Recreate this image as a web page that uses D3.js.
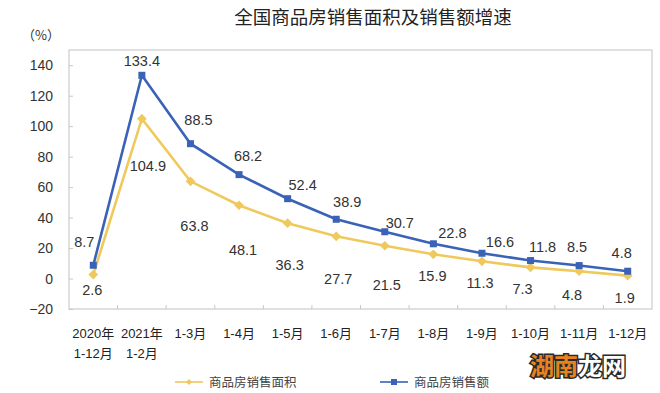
<!DOCTYPE html>
<html>
  <head>
    <meta charset="utf-8">
    <title>全国商品房销售面积及销售额增速</title>
    <script src="https://d3js.org/d3.v7.min.js"></script>
    <style>
      body{
        margin: 0;
        background: #fff;
      }
      text{
        font-family: "Liberation Sans", Arial, "Noto Sans CJK SC", sans-serif;
        fill: #333;
      }
      .cjk{
        font-family: "Noto Sans CJK SC", sans-serif;
      }
    </style>
  </head>
  <body>
    <div id="container"></div>
    <script>

      // DATA
      const periods = ["2020年|1-12月", "2021年|1-2月", "1-3月", "1-4月", "1-5月", "1-6月",
                       "1-7月", "1-8月", "1-9月", "1-10月", "1-11月", "1-12月"];
      const areaGrowth  = [2.6, 104.9, 63.8, 48.1, 36.3, 27.7, 21.5, 15.9, 11.3, 7.3, 4.8, 1.9];
      const salesGrowth = [8.7, 133.4, 88.5, 68.2, 52.4, 38.9, 30.7, 22.8, 16.6, 11.8, 8.5, 4.8];
      const yTicks = [-20, 0, 20, 40, 60, 80, 100, 120, 140];

      // hand placed label nudges (like the excel original), [dx, dy] from the point
      const areaNudge  = [[-1,15],[6,47],[4,44],[4,45],[2,42],[2,42],[2,39],[-1,21],[-2,21],[-8,21],[-7,24],[-3,22]];
      const salesNudge = [[-9,-23],[0,-15],[8,-24],[9,-19],[15,-14],[11,-17],[15,-9],[19,-11],[18,-11],[12,-14],[-2,-19],[-6,-18]];

      const W = 660, H = 393;
      const plot = { left: 69, right: 652, top: 50, bottom: 309 };
      const blue = "#3a62b6", yellow = "#efc95c";

      const svg = d3.select("#container")
        .append("svg")
        .attr("width", W)
        .attr("height", H);

      // TITLE
      svg.append("text")
        .attr("class", "cjk")
        .attr("x", 373)
        .attr("y", 24)
        .attr("text-anchor", "middle")
        .style("font-size", "18.5px")
        .style("fill", "#222")
        .text("全国商品房销售面积及销售额增速");

      svg.append("text")
        .attr("class", "cjk")
        .attr("x", 41)
        .attr("y", 40)
        .attr("text-anchor", "middle")
        .style("font-size", "13px")
        .text("（%）");

      // SCALES
      const x = d3.scaleBand()
        .domain(periods)
        .range([plot.left, plot.right]);
      const y = d3.scaleLinear()
        .domain([-20, 150])
        .range([plot.bottom, plot.top]);

      // FRAME
      svg.append("rect")
        .attr("x", plot.left)
        .attr("y", plot.top)
        .attr("width", plot.right - plot.left)
        .attr("height", plot.bottom - plot.top)
        .attr("fill", "none")
        .attr("stroke", "#d0d0d0")
        .attr("stroke-width", 1.3);

      // Y-AXIS
      const yAxis = svg.append("g")
        .attr("transform", "translate(" + plot.left + ",0)")
        .call(d3.axisRight(y).tickValues(yTicks).tickSize(4).tickFormat(d3.format("d")));
      yAxis.select(".domain").remove();
      yAxis.selectAll("line").attr("stroke", "#c8c8c8");
      yAxis.selectAll("text")
        .attr("x", -16)
        .attr("text-anchor", "end")
        .style("font-size", "14px")
        .style("fill", "#333");

      // X-AXIS (ticks between categories, pointing up)
      const xAxis = svg.append("g")
        .attr("transform", "translate(0," + plot.bottom + ")");
      xAxis.selectAll("line")
        .data(periods.slice(1))
        .enter()
        .append("line")
        .attr("x1", d => x(d))
        .attr("x2", d => x(d))
        .attr("y1", 0)
        .attr("y2", -4)
        .attr("stroke", "#c8c8c8");

      const xl = xAxis.selectAll(".xl")
        .data(periods)
        .enter()
        .append("text")
        .attr("class", "xl")
        .attr("text-anchor", "middle")
        .style("font-size", "13px")
        .style("fill", "#222");
      xl.each(function (d) {
        const parts = d.split("|");
        d3.select(this).selectAll("tspan")
          .data(parts)
          .enter()
          .append("tspan")
          .attr("x", x(d) + x.bandwidth() / 2)
          .attr("y", (p, i) => 29 + i * 20)
          .text(p => p);
      });

      // LINES
      const cx = (d, i) => x(periods[i]) + x.bandwidth() / 2;
      const line = d3.line()
        .x(cx)
        .y(d => y(d));

      svg.append("path")
        .datum(areaGrowth)
        .attr("fill", "none")
        .attr("stroke", yellow)
        .attr("stroke-width", 2.6)
        .attr("d", line);

      svg.append("path")
        .datum(salesGrowth)
        .attr("fill", "none")
        .attr("stroke", blue)
        .attr("stroke-width", 2.6)
        .attr("d", line);

      // MARKERS
      svg.selectAll(".dia")
        .data(areaGrowth)
        .enter()
        .append("path")
        .attr("class", "dia")
        .attr("d", d3.symbol().type(d3.symbolDiamond2).size(60))
        .attr("transform", (d, i) => "translate(" + cx(d, i) + "," + y(d) + ")")
        .attr("fill", yellow);

      svg.selectAll(".sq")
        .data(salesGrowth)
        .enter()
        .append("rect")
        .attr("class", "sq")
        .attr("x", (d, i) => cx(d, i) - 3.5)
        .attr("y", d => y(d) - 3.5)
        .attr("width", 7)
        .attr("height", 7)
        .attr("fill", blue);

      // VALUE LABELS
      svg.selectAll(".lblA")
        .data(areaGrowth)
        .enter()
        .append("text")
        .attr("class", "lblA")
        .attr("x", (d, i) => cx(d, i) + areaNudge[i][0])
        .attr("y", (d, i) => y(d) + areaNudge[i][1])
        .attr("dy", "0.36em")
        .attr("text-anchor", "middle")
        .style("font-size", "14.5px")
        .text(d => d3.format(".1f")(d));

      svg.selectAll(".lblS")
        .data(salesGrowth)
        .enter()
        .append("text")
        .attr("class", "lblS")
        .attr("x", (d, i) => cx(d, i) + salesNudge[i][0])
        .attr("y", (d, i) => y(d) + salesNudge[i][1])
        .attr("dy", "0.36em")
        .attr("text-anchor", "middle")
        .style("font-size", "14.5px")
        .text(d => d3.format(".1f")(d));

      // LEGEND
      const legend = [
        { name: "商品房销售面积", color: yellow, x: 175, mark: "dia" },
        { name: "商品房销售额", color: blue, x: 380, mark: "sq" }
      ];
      const lg = svg.selectAll(".lg")
        .data(legend)
        .enter()
        .append("g")
        .attr("class", "lg")
        .attr("transform", d => "translate(" + d.x + ",382)");
      lg.append("line")
        .attr("x1", 0).attr("x2", 28)
        .attr("stroke", d => d.color)
        .attr("stroke-width", 1.6);
      lg.filter(d => d.mark === "sq").append("rect")
        .attr("x", 11).attr("y", -3).attr("width", 6).attr("height", 6)
        .attr("fill", d => d.color);
      lg.filter(d => d.mark === "dia").append("path")
        .attr("d", d3.symbol().type(d3.symbolDiamond2).size(24))
        .attr("transform", "translate(14,0)")
        .attr("fill", d => d.color);
      lg.append("text")
        .attr("class", "cjk")
        .attr("x", 34)
        .attr("dy", "0.36em")
        .style("font-size", "12.5px")
        .style("fill", "#444")
        .text(d => d.name);

      // WATERMARK
      const wm = svg.append("text")
        .attr("class", "cjk")
        .attr("x", 530)
        .attr("y", 375)
        .style("font-size", "24px")
        .style("font-weight", "bold")
        .style("paint-order", "stroke")
        .style("stroke", "#2a2a2a")
        .style("stroke-width", "3px");
      wm.append("tspan").style("fill", "#e8821f").text("湖南");
      wm.append("tspan").style("fill", "#fff").text("龙网");

    </script>
  </body>
</html>
